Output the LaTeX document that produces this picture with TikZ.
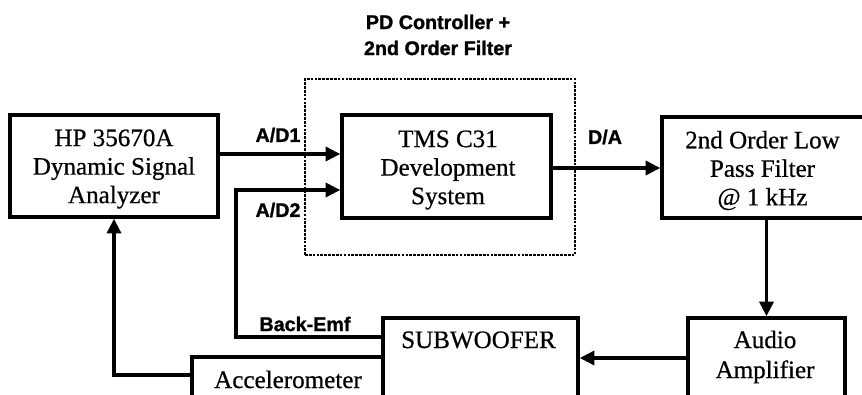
\documentclass[tikz,border=0pt]{standalone}
\usepackage{fontspec}
\setmainfont{Liberation Serif}[FakeBold=0.6]
\newfontfamily\labfont{Liberation Sans}[BoldFeatures={FakeBold=1.2}]
\usetikzlibrary{arrows.meta}
\begin{document}
\begin{tikzpicture}[x=0.75pt,y=-0.75pt,
  box/.style={draw,line width=2.6pt,rectangle,inner sep=0pt},
  txt/.style={inner sep=0pt,align=center,font=\fontsize{18.8}{21.4}\selectfont},
  lab/.style={font=\labfont\bfseries\fontsize{14.8}{19.5}\selectfont,inner sep=0pt,align=center},
  arr/.style={line width=2.6pt,-{Triangle[length=11pt,width=10.5pt]}},
  grp/.style={draw,line width=2.1pt,dash pattern=on 2pt off 0.9pt,inner sep=0pt}]
\useasboundingbox (0,0) rectangle (862,395);
\clip (0,0) rectangle (862,395);
\fill[white] (0,0) rectangle (862,395);
% group
\node[grp,minimum width=202.5pt,minimum height=132pt] (grp) at (440,167) {};
\node[lab] (pd) at (438,35) {PD Controller +\\2nd Order Filter};
% boxes
\node[box,minimum width=156pt,minimum height=76.5pt] (hp) at (114,166) {};
\node[box,fill=white,minimum width=156.75pt,minimum height=77.25pt] (tms) at (446.5,166.5) {};
\node[box,minimum width=153pt,minimum height=75.75pt] (lpf) at (764,167.5) {};
\node[box,minimum width=117.75pt,minimum height=76.5pt] (amp) at (766.5,369) {};
\node[box,minimum width=146.25pt,minimum height=76.5pt] (sub) at (480.5,369) {};
\node[box,minimum width=143.25pt,minimum height=45pt] (acc) at (287.5,387) {};
% box texts
\node[txt] (hpT) at (114,169) {HP 35670A\\Dynamic Signal\\Analyzer};
\node[txt] (tmsT) at (448,170) {TMS C31\\Development\\System};
\node[txt] (lpfT) at (762.5,170.5) {2nd Order Low\\Pass Filter\\@ 1 kHz};
\node[txt,font=\fontsize{18.8}{22.5}\selectfont] (ampT) at (765,357) {Audio\\Amplifier};
\node[txt,anchor=base] (subT) at (478.5,348) {SUBWOOFER};
\node[txt,anchor=base] (accT) at (288,388) {Accelerometer};
% labels
\node[lab] (ad1) at (278,135) {A/D1};
\node[lab] (ad2) at (278,210) {A/D2};
\node[lab] (da) at (605,137) {D/A};
\node[lab] (bemf) at (305,324) {Back-Emf};
% connectors
\draw[arr] (hp.east |- 0,154) -- (tms.west |- 0,154);
\draw[arr] (sub.west |- 0,337) -| (236,190) -- (tms.west |- 0,190);
\draw[arr] (tms.east |- 0,168) -- (lpf.west |- 0,168);
\draw[arr] (lpf.south -| amp.north) -- (amp.north);
\draw[arr] (amp.west |- 0,358) -- (sub.east |- 0,358);
\draw[arr] (acc.west |- 0,375) -| (hp.south);
\end{tikzpicture}
\end{document}
